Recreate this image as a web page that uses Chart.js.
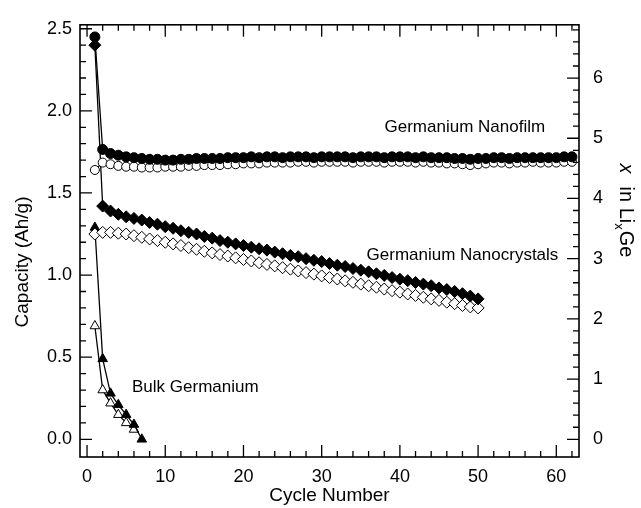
<!DOCTYPE html>
<html><head><meta charset="utf-8">
<script src="https://cdn.jsdelivr.net/npm/chart.js@4.4.0/dist/chart.umd.min.js"></script>
<style>html,body{margin:0;padding:0;background:#fff}#wrap{width:641px;height:508px}</style>
</head><body><div id="wrap"><canvas id="c" width="641" height="508"></canvas></div>
<script>
// ---------- data ----------
const cyclesFilm = [1,2,3,4,5,6,7,8,9,10,11,12,13,14,15,16,17,18,19,20,21,22,23,24,25,26,27,28,29,30,31,32,33,34,35,36,37,38,39,40,41,42,43,44,45,46,47,48,49,50,51,52,53,54,55,56,57,58,59,60,61,62];
const filmFilled = [2.45,1.765,1.74,1.73,1.72,1.715,1.71,1.705,1.705,1.70,1.70,1.705,1.705,1.71,1.71,1.71,1.71,1.715,1.715,1.715,1.72,1.715,1.72,1.72,1.715,1.72,1.72,1.72,1.715,1.72,1.72,1.72,1.72,1.715,1.72,1.72,1.72,1.715,1.72,1.72,1.72,1.715,1.72,1.715,1.715,1.715,1.71,1.71,1.705,1.71,1.71,1.715,1.715,1.71,1.715,1.715,1.715,1.715,1.715,1.715,1.72,1.72];
const filmOpen = [1.64,1.685,1.675,1.665,1.66,1.66,1.655,1.655,1.655,1.66,1.66,1.66,1.665,1.665,1.67,1.67,1.67,1.675,1.675,1.68,1.68,1.68,1.685,1.685,1.685,1.685,1.69,1.69,1.685,1.69,1.69,1.69,1.69,1.685,1.69,1.69,1.69,1.685,1.69,1.69,1.69,1.685,1.69,1.685,1.685,1.68,1.68,1.675,1.67,1.675,1.68,1.685,1.685,1.68,1.685,1.685,1.69,1.685,1.685,1.685,1.69,1.69];

const cyclesNano = [1,2,3,4,5,6,7,8,9,10,11,12,13,14,15,16,17,18,19,20,21,22,23,24,25,26,27,28,29,30,31,32,33,34,35,36,37,38,39,40,41,42,43,44,45,46,47,48,49,50];
const nanoFilled = [2.40,1.42,1.39,1.37,1.355,1.345,1.335,1.32,1.31,1.295,1.285,1.27,1.26,1.25,1.235,1.225,1.21,1.20,1.19,1.18,1.17,1.16,1.152,1.14,1.13,1.12,1.112,1.10,1.09,1.082,1.07,1.06,1.052,1.04,1.03,1.02,1.008,0.998,0.985,0.975,0.966,0.955,0.945,0.935,0.922,0.912,0.90,0.887,0.872,0.855];
const nanoOpen = [1.25,1.26,1.26,1.255,1.25,1.24,1.23,1.22,1.21,1.20,1.19,1.18,1.167,1.157,1.145,1.135,1.125,1.116,1.105,1.095,1.086,1.075,1.065,1.056,1.045,1.036,1.025,1.015,1.006,0.995,0.985,0.976,0.965,0.956,0.945,0.935,0.926,0.915,0.905,0.896,0.885,0.876,0.865,0.855,0.846,0.835,0.826,0.815,0.806,0.80];

const cyclesBulkFilled = [1,2,3,4,5,6,7];
const bulkFilled = [1.29,0.49,0.28,0.21,0.15,0.09,0.00];
const cyclesBulkOpen = [1,2,3,4,5,6];
const bulkOpen = [0.69,0.30,0.22,0.15,0.10,0.06];

const xTicks = [0,10,20,30,40,50,60];
const yTicks = [0.0,0.5,1.0,1.5,2.0,2.5];
const y2Ticks = [0,1,2,3,4,5,6];

const labels = [
  {text:'Germanium Nanofilm', x:48.3, y:1.90, align:'center'},
  {text:'Germanium Nanocrystals', x:48.0, y:1.118, align:'center'},
  {text:'Bulk Germanium', x:5.75, y:0.317, align:'left'}
];

// ---------- chart ----------
const FONT = '"Liberation Sans", Arial, Helvetica, sans-serif';
function pts(xs, ys){ return xs.map((v,i)=>({x:v, y:ys[i]})); }
function ds(data, style, filled, radius, order){
  return {data, showLine:true, borderColor:'#000', borderWidth:1.3,
    pointStyle:style, pointRadius:radius, pointBorderWidth:1,
    pointBackgroundColor: filled ? '#000' : '#fff', pointBorderColor:'#000',
    backgroundColor: filled ? '#000' : '#fff', fill:false, tension:0, order, yAxisID:'y'};
}

const frame = {
  id:'frame',
  afterDraw(chart){
    const {ctx, chartArea:a, scales} = chart;
    const sx = scales.x, sy = scales.y, sy2 = scales.y2;
    ctx.save();
    ctx.strokeStyle = '#000';
    ctx.lineWidth = 1.6;
    ctx.strokeRect(a.left, a.top, a.right - a.left, a.bottom - a.top);
    ctx.lineWidth = 1.3;
    ctx.beginPath();
    for (let i = 0; i <= 31; i++) {
      const v = i * 2;
      const p = sx.getPixelForValue(v);
      const L = (v % 10 === 0) ? 12 : 6;
      ctx.moveTo(p, a.bottom); ctx.lineTo(p, a.bottom - L);
      ctx.moveTo(p, a.top); ctx.lineTo(p, a.top + L);
    }
    for (let i = 0; i <= 25; i++) {
      const p = sy.getPixelForValue(i / 10);
      const L = (i % 5 === 0) ? 12 : 6;
      ctx.moveTo(a.left, p); ctx.lineTo(a.left + L, p);
    }
    for (let i = 0; i <= 34; i++) {
      const p = sy2.getPixelForValue(i / 5);
      const L = (i % 5 === 0) ? 12 : 6;
      ctx.moveTo(a.right, p); ctx.lineTo(a.right - L, p);
    }
    ctx.stroke();

    // annotations
    ctx.fillStyle = '#000';
    ctx.font = '17px ' + FONT;
    ctx.textBaseline = 'middle';
    labels.forEach(l => {
      ctx.textAlign = l.align;
      ctx.fillText(l.text, sx.getPixelForValue(l.x), sy.getPixelForValue(l.y));
    });

    // axis titles
    ctx.font = '19px ' + FONT;
    ctx.textAlign = 'center';
    ctx.fillText('Cycle Number', (a.left + a.right) / 2, 496);
    ctx.save();
    ctx.translate(23, 262);
    ctx.rotate(-Math.PI / 2);
    ctx.fillText('Capacity (Ah/g)', 0, 0);
    ctx.restore();

    // right title: x in Li_x Ge (rotated clockwise)
    ctx.save();
    ctx.translate(627, 210);
    ctx.rotate(Math.PI / 2);
    ctx.textAlign = 'left';
    ctx.textBaseline = 'alphabetic';
    const fMain = '20px ' + FONT, fIt = 'italic 20px ' + FONT, fSub = '13px ' + FONT;
    ctx.font = fIt; const w1 = ctx.measureText('x').width;
    const gap = 13;
    ctx.font = fMain; const w2 = ctx.measureText('in Li').width;
    ctx.font = fSub; const w3 = ctx.measureText('x').width;
    ctx.font = fMain; const w4 = ctx.measureText('Ge').width;
    const tot = w1 + gap + w2 + w3 + w4;
    let cx = -tot / 2;
    const base = 7;
    ctx.font = fIt; ctx.fillText('x', cx, base); cx += w1 + gap;
    ctx.font = fMain; ctx.fillText('in Li', cx, base); cx += w2;
    ctx.font = fSub; ctx.fillText('x', cx, base + 5); cx += w3 + 1;
    ctx.font = fMain; ctx.fillText('Ge', cx, base);
    ctx.restore();
    ctx.restore();
  }
};

new Chart(document.getElementById('c'), {
  type: 'scatter',
  data: {
    datasets: [
      ds(pts(cyclesFilm, filmFilled), 'circle', true, 5, 1),
      ds(pts(cyclesFilm, filmOpen), 'circle', false, 4.5, 2),
      ds(pts(cyclesNano, nanoFilled), 'rectRot', true, 6, 3),
      ds(pts(cyclesNano, nanoOpen), 'rectRot', false, 6, 4),
      ds(pts(cyclesBulkFilled, bulkFilled), 'triangle', true, 5.5, 5),
      ds(pts(cyclesBulkOpen, bulkOpen), 'triangle', false, 5.5, 6)
    ]
  },
  options: {
    responsive: false, animation: false, devicePixelRatio: 1,
    layout: {padding: {top: 17, left: 0, right: 0, bottom: 0}},
    plugins: {legend: {display: false}, tooltip: {enabled: false}},
    scales: {
      x: {
        type: 'linear', position: 'bottom', min: -0.9, max: 62.9,
        afterBuildTicks(s){ s.ticks = xTicks.map(v => ({value: v})); },
        afterFit(s){ s.height = 51; },
        grid: {display: false, drawTicks: false},
        border: {display: false},
        ticks: {color: '#000', padding: 9, maxRotation: 0, font: {family: FONT, size: 18}, callback: v => String(v)}
      },
      y: {
        type: 'linear', position: 'left', min: -0.1077, max: 2.524,
        afterBuildTicks(s){ s.ticks = yTicks.map(v => ({value: v})); },
        afterFit(s){ s.width = 80; },
        grid: {display: false, drawTicks: false},
        border: {display: false},
        ticks: {color: '#000', padding: 8, font: {family: FONT, size: 18}, callback: v => Number(v).toFixed(1)}
      },
      y2: {
        type: 'linear', position: 'right', min: -0.294, max: 6.884,
        afterBuildTicks(s){ s.ticks = y2Ticks.map(v => ({value: v})); },
        afterFit(s){ s.width = 62; },
        grid: {display: false, drawTicks: false},
        border: {display: false},
        ticks: {color: '#000', padding: 14, font: {family: FONT, size: 18}, callback: v => String(v)}
      }
    }
  },
  plugins: [frame]
});
</script>
</body></html>
